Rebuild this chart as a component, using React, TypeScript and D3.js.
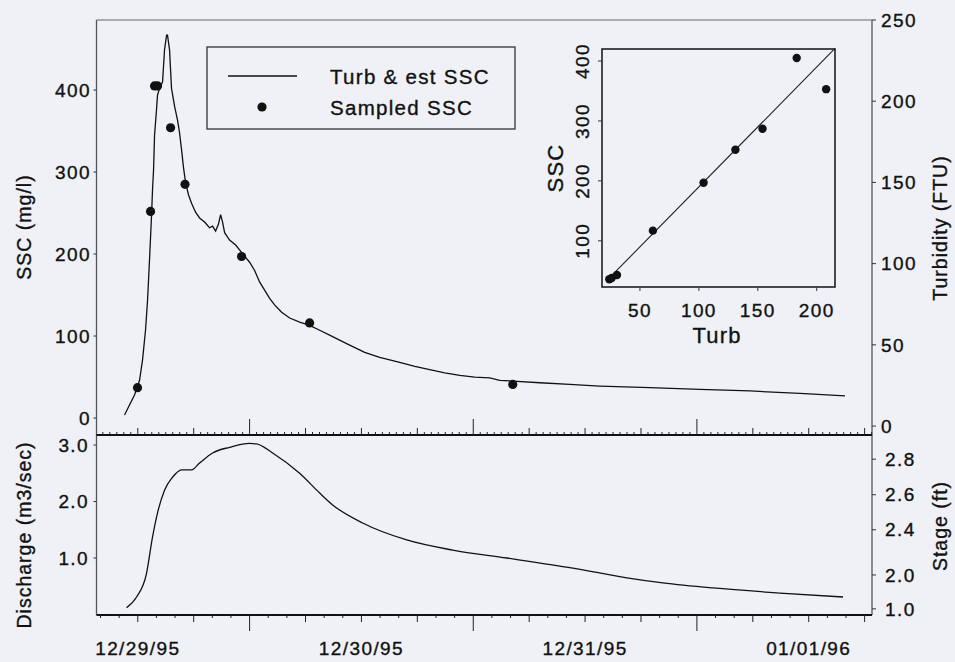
import React from "react";
import * as d3 from "d3";

// ---------- DATA ----------
// times are hours since 12/29/95 00:00
const sscHours = [10.58, 11.11, 11.65, 12.19, 12.51, 12.83, 13.05, 13.26, 13.48, 13.58, 13.69, 13.8, 14.01, 14.12, 14.34, 14.66, 14.87, 15.09, 15.19, 15.41, 15.52, 15.62, 15.95, 16.27, 16.48, 16.7, 16.91, 17.13, 17.45, 17.77, 18.2, 18.63, 19.17, 19.7, 20.03, 20.35, 20.67, 20.89, 21.1, 21.32, 21.85, 22.5, 23.14, 23.57, 24.0, 24.54, 25.07, 25.61, 26.15, 26.68, 27.44, 28.3, 29.37, 30.44, 31.52, 32.59, 33.66, 34.74, 36.35, 37.96, 40.11, 41.72, 43.33, 44.94, 46.55, 48.16, 49.77, 50.85, 52.24, 55.14, 58.36, 61.58, 66.95, 72.32, 77.69, 83.06, 87.89];
const sscValues = [3.7, 15.9, 28, 46, 71, 107, 144, 193, 248, 278, 302, 345, 376, 394, 402, 410, 449, 467, 467, 449, 424, 402, 380, 363, 348, 327, 305, 287, 272, 262, 251, 244, 239, 232, 234, 228, 237, 248, 239, 226, 217, 211, 202, 196, 190, 180, 166, 156, 146, 138, 129, 122, 117, 113, 107, 101, 95, 89, 80, 74, 68, 63, 59, 55, 52, 50, 49, 46, 45, 43, 41, 39, 37, 35, 33, 30, 27];

const sampleHours = [11.97, 13.37, 13.8, 14.12, 15.52, 17.07, 23.14, 30.44, 52.24];
const sampleSSC = [37, 252, 405, 405, 354, 285, 197, 116, 41];

const qHours = [10.79, 11.87, 12.94, 13.58, 14.12, 14.87, 15.73, 16.7, 17.77, 18.63, 20.03, 21.85, 24.0, 24.75, 26.47, 29.37, 31.52, 32.91, 36.13, 40.86, 45.8, 51.6, 58.69, 64.48, 68.35, 73.72, 80.91, 87.68];
const qValues = [0.12, 0.31, 0.73, 1.37, 1.8, 2.2, 2.43, 2.56, 2.56, 2.68, 2.86, 2.96, 3.03, 3.02, 2.86, 2.5, 2.15, 1.94, 1.62, 1.32, 1.14, 1.0, 0.82, 0.65, 0.56, 0.47, 0.38, 0.31];

const insetTurb = [24, 26, 30.5, 61, 104, 131, 154, 183, 208];
const insetSSC = [36, 38, 43, 117, 197, 252, 287, 405, 353];
const fitSlope = 2.0;
const fitIntercept = -10;

const sscTicks = [0, 100, 200, 300, 400];
const turbTicks = [0, 50, 100, 150, 200, 250];
const qTicks = [1.0, 2.0, 3.0];
const stageLabels = ["1.0", "2.0", "2.4", "2.6", "2.8"];
const stageAsDischarge = [0.1, 0.7, 1.5, 2.12, 2.75];
const dateLabels = ["12/29/95", "12/30/95", "12/31/95", "01/01/96"];
const insetXTicks = [50, 100, 150, 200];
const insetYTicks = [100, 200, 300, 400];

// ---------- HELPERS ----------
const BASE = new Date(1995, 11, 29, 0, 0, 0).getTime();
const t = (h: number) => new Date(BASE + h * 3600000);

const FONT = "'Liberation Sans', Arial, Helvetica, sans-serif";
const BG = "#eff1f7";
const INK = "#111";

export default function App() {
  const W = 955, H = 662;
  const L = 96.5, R = 872;
  const topY = 20, midY = 435, botY = 615;

  const x = d3.scaleTime().domain([t(7.57), t(90.79)]).range([L, R]);
  const ySSC = d3.scaleLinear().domain([-20.7, 485.4]).range([midY, topY]);
  const yTurb = d3.scaleLinear().domain([-5.5, 250]).range([midY, topY]);
  const yQ = d3.scaleLinear().domain([0, 3.16]).range([614.5, midY + 1]);

  const sscLine = d3.line<number>().x((_, i) => x(t(sscHours[i]))).y((d) => ySSC(d));
  const qLine = d3.line<number>().x((_, i) => x(t(qHours[i]))).y((d) => yQ(d)).curve(d3.curveMonotoneX);

  // inset
  const ix = d3.scaleLinear().domain([17.8, 215.5]).range([602, 835]);
  const iy = d3.scaleLinear().domain([23, 420]).range([287, 49]);
  const fitX0 = 22, fitX1 = 215.5;

  // tick generation
  const [d0, d1] = x.domain();
  const tickTimes = (stepMin: number) => {
    const out: { d: Date; m: number }[] = [];
    for (let m = 0; m <= 96 * 60; m += stepMin) {
      const d = new Date(BASE + m * 60000);
      if (d >= d0 && d <= d1) out.push({ d, m });
    }
    return out;
  };
  const tickLen = (m: number) => (m % 1440 === 0 ? 16 : m % 360 === 0 ? 7 : 3);

  const textStyle: React.CSSProperties = { fontFamily: FONT, fontSize: 19, letterSpacing: 1.4 };
  const titleStyle: React.CSSProperties = { fontFamily: FONT, fontSize: 19.5, letterSpacing: 1 };
  const thick = { stroke: INK, strokeWidth: 0.35 };

  return (
    <svg width={W} height={H} style={{ position: "fixed", left: 0, top: 0, background: BG }}>
      <rect x={0} y={0} width={W} height={H} fill={BG} />

      {/* Top panel frame */}
      <line x1={L} x2={R} y1={topY} y2={topY} stroke="#666" strokeWidth={1.2} />
      <line x1={L} x2={L} y1={topY} y2={botY} stroke="#555" strokeWidth={1.3} />
      <line x1={R} x2={R} y1={topY} y2={botY} stroke="#555" strokeWidth={1.3} />
      <line x1={L} x2={R} y1={midY} y2={midY} stroke={INK} strokeWidth={2} />
      <line x1={L} x2={R} y1={botY} y2={botY} stroke={INK} strokeWidth={2} />

      {/* x ticks on divider (upward) */}
      {tickTimes(45).map(({ d, m }) => (
        <line key={"ut" + m} x1={x(d)} x2={x(d)} y1={midY} y2={midY - tickLen(m)} stroke="#222" strokeWidth={1} />
      ))}
      {/* x ticks on bottom (downward) */}
      {tickTimes(120).map(({ d, m }) => (
        <line key={"bt" + m} x1={x(d)} x2={x(d)} y1={botY} y2={botY + tickLen(m)} stroke="#222" strokeWidth={1} />
      ))}
      {dateLabels.map((lab, i) => (
        <text key={lab} x={x(t(12 + 24 * i))} y={655} textAnchor="middle" style={textStyle} fill={INK} {...thick}>
          {lab}
        </text>
      ))}

      {/* SSC axis (left) */}
      {sscTicks.map((v) => (
        <g key={"s" + v}>
          <line x1={L} x2={L - 3} y1={ySSC(v)} y2={ySSC(v)} stroke="#333" />
          <text x={91} y={ySSC(v)} dy="0.35em" textAnchor="end" style={textStyle} fill={INK} {...thick}>{v}</text>
        </g>
      ))}
      {/* Turbidity axis (right) */}
      {turbTicks.map((v) => (
        <g key={"tu" + v}>
          <line x1={R} x2={R + 4} y1={yTurb(v)} y2={yTurb(v)} stroke="#333" />
          <text x={881} y={yTurb(v)} dy="0.35em" textAnchor="start" style={textStyle} fill={INK} {...thick}>{v}</text>
        </g>
      ))}
      {/* Discharge axis (left) */}
      {qTicks.map((v) => (
        <g key={"q" + v}>
          <line x1={L} x2={L - 3} y1={yQ(v)} y2={yQ(v)} stroke="#333" />
          <text x={89} y={yQ(v)} dy="0.35em" textAnchor="end" style={textStyle} fill={INK} {...thick}>{v.toFixed(1)}</text>
        </g>
      ))}
      {/* Stage axis (right) */}
      {stageLabels.map((lab, i) => (
        <g key={"st" + lab}>
          <line x1={R} x2={R + 4} y1={yQ(stageAsDischarge[i])} y2={yQ(stageAsDischarge[i])} stroke="#333" />
          <text x={885} y={yQ(stageAsDischarge[i])} dy="0.35em" textAnchor="start" style={textStyle} fill={INK} {...thick}>{lab}</text>
        </g>
      ))}

      {/* Axis titles */}
      <text transform="translate(31,227) rotate(-90)" textAnchor="middle" style={titleStyle} fill={INK} {...thick}>SSC (mg/l)</text>
      <text transform="translate(31,535) rotate(-90)" textAnchor="middle" style={titleStyle} fill={INK} {...thick}>Discharge (m3/sec)</text>
      <text transform="translate(947,228) rotate(-90)" textAnchor="middle" style={titleStyle} fill={INK} {...thick}>Turbidity (FTU)</text>
      <text transform="translate(947,526) rotate(-90)" textAnchor="middle" style={titleStyle} fill={INK} {...thick}>Stage (ft)</text>

      {/* SSC line */}
      <path d={sscLine(sscValues) || ""} fill="none" stroke={INK} strokeWidth={1.3} />
      {sampleSSC.map((v, i) => (
        <circle key={"p" + i} cx={x(t(sampleHours[i]))} cy={ySSC(v)} r={4.6} fill={INK} />
      ))}

      {/* Discharge line */}
      <path d={qLine(qValues) || ""} fill="none" stroke={INK} strokeWidth={1.3} />

      {/* Legend */}
      <rect x={207} y={47} width={308} height={82} fill="none" stroke="#333" strokeWidth={1.3} />
      <line x1={228} x2={297} y1={76} y2={76} stroke={INK} strokeWidth={1.5} />
      <circle cx={262} cy={107} r={4.6} fill={INK} />
      <text x={330} y={84} style={{ ...titleStyle, fontSize: 20.5, letterSpacing: 1.3 }} fill={INK} {...thick}>Turb &amp; est SSC</text>
      <text x={330} y={115} style={{ ...titleStyle, fontSize: 20.5, letterSpacing: 1.3 }} fill={INK} {...thick}>Sampled SSC</text>

      {/* Inset */}
      <rect x={602} y={49} width={233} height={238} fill="none" stroke={INK} strokeWidth={1.5} />
      <line x1={ix(fitX0)} y1={iy(fitSlope * fitX0 + fitIntercept)} x2={ix(fitX1)} y2={iy(fitSlope * fitX1 + fitIntercept)} stroke="#222" strokeWidth={1.1} />
      {insetTurb.map((v, i) => (
        <circle key={"ip" + i} cx={ix(v)} cy={iy(insetSSC[i])} r={4.2} fill={INK} />
      ))}
      {insetXTicks.map((v) => (
        <g key={"ix" + v}>
          <line x1={ix(v)} x2={ix(v)} y1={287} y2={291} stroke="#333" />
          <text x={ix(v)} y={317} textAnchor="middle" style={textStyle} fill={INK} {...thick}>{v}</text>
        </g>
      ))}
      {insetYTicks.map((v) => (
        <g key={"iy" + v}>
          <line x1={602} x2={598} y1={iy(v)} y2={iy(v)} stroke="#333" />
          <text transform={`translate(589,${iy(v)}) rotate(-90)`} textAnchor="middle" style={textStyle} fill={INK} {...thick}>{v}</text>
        </g>
      ))}
      <text x={717} y={343} textAnchor="middle" style={{ ...titleStyle, fontSize: 22, letterSpacing: 1.2 }} fill={INK} {...thick}>Turb</text>
      <text transform="translate(563,168) rotate(-90)" textAnchor="middle" style={{ ...titleStyle, fontSize: 22, letterSpacing: 1.2 }} fill={INK} {...thick}>SSC</text>
    </svg>
  );
}
